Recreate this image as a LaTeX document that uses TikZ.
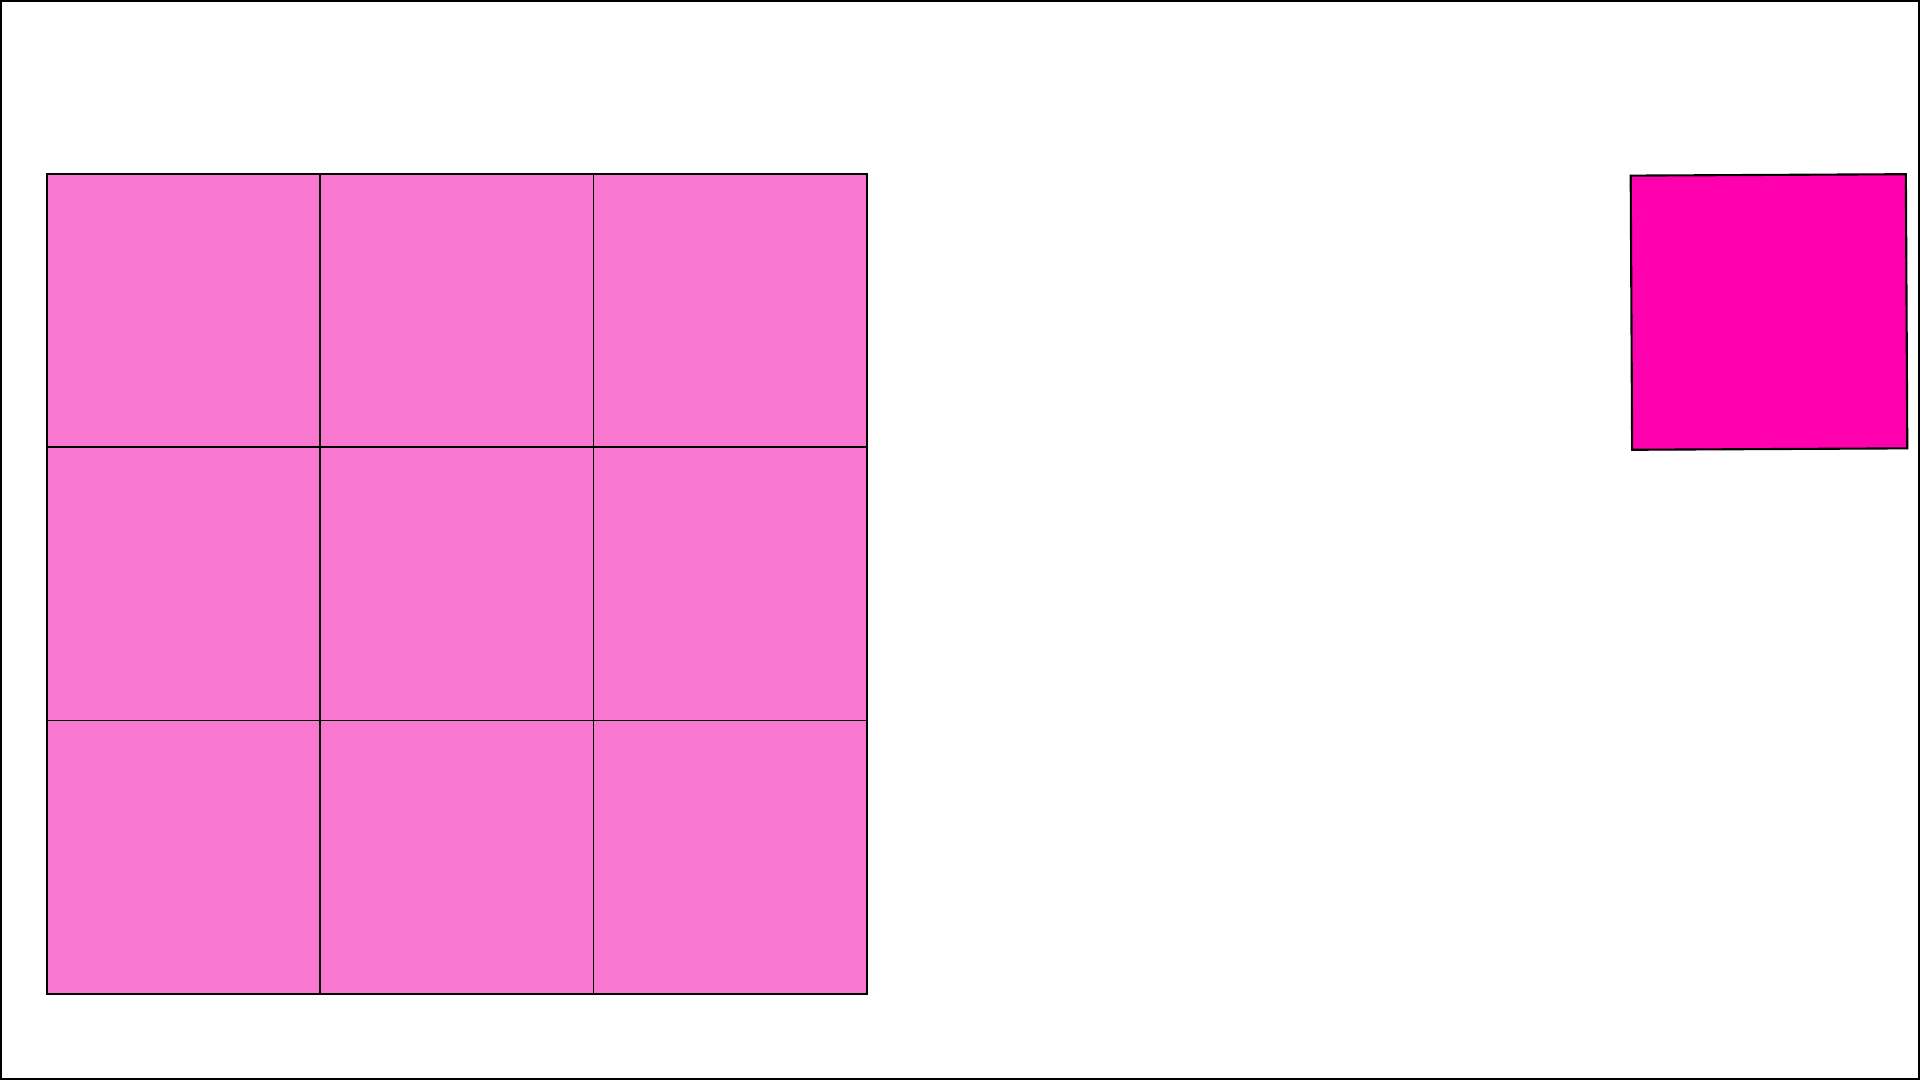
\documentclass[tikz,border=0pt]{standalone}
\usepackage{tikz}
\usetikzlibrary{positioning}
\definecolor{tilePink}{HTML}{F877CF}
\definecolor{tileMagenta}{HTML}{FF00AE}
\tikzset{
  tilebox/.style={rectangle, draw=black, line width=0.45pt, fill=tilePink,
    minimum size=2.733cm, inner sep=0pt, outer sep=0pt},
  tileboxHot/.style={rectangle, draw=black, line width=0.6pt, fill=tileMagenta,
    minimum width=2.75cm, minimum height=2.74cm, inner sep=0pt, outer sep=0pt},
  frameline/.style={draw=black, line width=0.6pt}
}
\begin{document}
\begin{tikzpicture}[x=0.01cm, y=-0.01cm]
  % page frame, 1920 x 1080 px
  \useasboundingbox (0,0) rectangle (1920,1080);
  \draw[frameline] (1,1) rectangle (1919,1079);
  % 3 x 3 grid of tiles
  \foreach \row in {0,1,2} {
    \foreach \col in {0,1,2} {
      \node[tilebox] (t\row\col) at ({47+273.3*(\col+0.5)}, {174+273.3*(\row+0.5)}) {};
    }
  }
  % single tile on the right
  \node[tileboxHot, rotate=0.3] (single) at (1769,312) {};
\end{tikzpicture}
\end{document}
